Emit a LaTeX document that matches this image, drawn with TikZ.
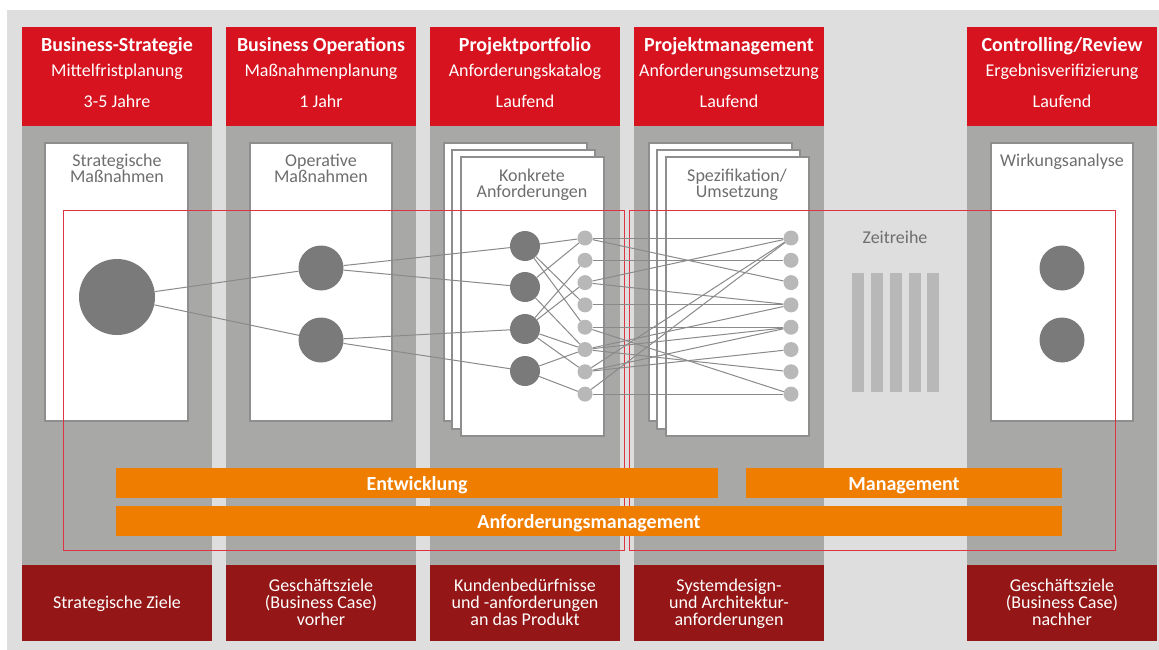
\documentclass[tikz,border=0pt]{standalone}
\usepackage{fontspec}
\setmainfont{Carlito}
\definecolor{bggray}{HTML}{DEDEDE}
\definecolor{colgray}{HTML}{A8A8A6}
\definecolor{hdrred}{HTML}{D6131F}
\definecolor{ftrred}{HTML}{941616}
\definecolor{barorange}{HTML}{EF7D00}
\definecolor{darknode}{HTML}{7A7A7A}
\definecolor{lightnode}{HTML}{B8B8B8}
\definecolor{edgegray}{HTML}{8A8A8A}
\definecolor{pagegray}{HTML}{8E8E8E}
\definecolor{labelgray}{HTML}{6E6E6E}
\definecolor{frame}{HTML}{DC3442}
\begin{document}
\begin{tikzpicture}[x=1pt,y=-1pt,
    page/.style={fill=white, draw=pagegray, line width=1.2pt},
    frameline/.style={draw=frame, line width=1pt},
    edge/.style={draw=edgegray, line width=1pt},
    bignode/.style={circle, fill=darknode, inner sep=0pt, minimum size=76pt},
    midnode/.style={circle, fill=darknode, inner sep=0pt, minimum size=45pt},
    knode/.style={circle, fill=darknode, inner sep=0pt, minimum size=30pt},
    snode/.style={circle, fill=lightnode, inner sep=0pt, minimum size=15pt},
    hdrbold/.style={anchor=base, text=white, inner sep=0pt, font=\bfseries\fontsize{20}{20}\selectfont},
    hdrtext/.style={anchor=base, text=white, inner sep=0pt, font=\fontsize{18}{18}\selectfont},
    boxlabel/.style={anchor=north, text=labelgray, inner sep=0pt, align=center, font=\fontsize{18}{16}\selectfont},
    ftrtext/.style={anchor=north, text=white, inner sep=0pt, align=center, font=\fontsize{18}{17}\selectfont},
    bartext/.style={anchor=base, text=white, inner sep=0pt, font=\bfseries\fontsize{20}{20}\selectfont}]
    \useasboundingbox (0,0) rectangle (1159,650);
    \fill[bggray] (7,10) rectangle (1159,650);
    % columns
    \fill[colgray] (22,126) rectangle (212,565);
    \fill[colgray] (226,126) rectangle (416,565);
    \fill[colgray] (430,126) rectangle (620,565);
    \fill[colgray] (634,126) rectangle (824,565);
    \fill[colgray] (967,126) rectangle (1157,565);
    \fill[hdrred] (22,27) rectangle (212,126);
    \fill[hdrred] (226,27) rectangle (416,126);
    \fill[hdrred] (430,27) rectangle (620,126);
    \fill[hdrred] (634,27) rectangle (824,126);
    \fill[hdrred] (967,27) rectangle (1157,126);
    \fill[ftrred] (22,565) rectangle (212,641);
    \fill[ftrred] (226,565) rectangle (416,641);
    \fill[ftrred] (430,565) rectangle (620,641);
    \fill[ftrred] (634,565) rectangle (824,641);
    \fill[ftrred] (967,565) rectangle (1157,641);
    % pages
    \draw[page] (45,143) rectangle (188,421);
    \draw[page] (250,143) rectangle (392,421);
    \draw[page] (444,143) rectangle (587,421);
    \draw[page] (452,150) rectangle (595,429);
    \draw[page] (461,157) rectangle (604,436);
    \draw[page] (649,143) rectangle (792,421);
    \draw[page] (657,150) rectangle (800,429);
    \draw[page] (666,157) rectangle (809,436);
    \draw[page] (991,143) rectangle (1133,421);
    % header texts
    \node[hdrbold] (strat) at (117,52) {Business-Strategie};
    \node[hdrtext] (stratsub) at (117,77) {Mittelfristplanung};
    \node[hdrtext] (stratzeit) at (117,108) {3-5 Jahre};
    \node[hdrbold] (ops) at (321,52) {Business Operations};
    \node[hdrtext] (opssub) at (321,77) {Maßnahmenplanung};
    \node[hdrtext] (opszeit) at (321,108) {1 Jahr};
    \node[hdrbold] (portf) at (525,52) {Projektportfolio};
    \node[hdrtext] (portfsub) at (525,77) {Anforderungskatalog};
    \node[hdrtext] (portfzeit) at (525,108) {Laufend};
    \node[hdrbold] (pm) at (729,52) {Projektmanagement};
    \node[hdrtext] (pmsub) at (729,77) {Anforderungsumsetzung};
    \node[hdrtext] (pmzeit) at (729,108) {Laufend};
    \node[hdrbold] (ctrl) at (1062,52) {Controlling/Review};
    \node[hdrtext] (ctrlsub) at (1062,77) {Ergebnisverifizierung};
    \node[hdrtext] (ctrlzeit) at (1062,108) {Laufend};
    % page labels
    \node[boxlabel] (lstrat) at (117,154) {Strategische\\Maßnahmen};
    \node[boxlabel] (lops) at (321,154) {Operative\\Maßnahmen};
    \node[boxlabel] (lkonk) at (532,169) {Konkrete\\Anforderungen};
    \node[boxlabel] (lspez) at (737,169) {Spezifikation/\\Umsetzung};
    \node[boxlabel] (lwirk) at (1062,154) {Wirkungsanalyse};
    \node[boxlabel] (lzeit) at (895,231) {Zeitreihe};
    % Zeitreihe
    \fill[lightnode] (852,273) rectangle (864,392);
    \fill[lightnode] (871,273) rectangle (883,392);
    \fill[lightnode] (890,273) rectangle (902,392);
    \fill[lightnode] (909,273) rectangle (921,392);
    \fill[lightnode] (927,273) rectangle (939,392);
    % frames
    \draw[frameline] (63,210) rectangle (624,550);
    \draw[frameline] (629,210) rectangle (1115,550);
    % nodes
    \node[bignode] (ziel) at (117,297) {};
    \node[midnode] (op1) at (321,268) {};
    \node[midnode] (op2) at (321,340) {};
    \node[knode] (ka) at (525,246) {};
    \node[knode] (kb) at (525,287) {};
    \node[knode] (kc) at (525,329) {};
    \node[knode] (kd) at (525,371) {};
    \node[snode] (s1) at (585,238) {};
    \node[snode] (s2) at (585,260.3) {};
    \node[snode] (s3) at (585,282.6) {};
    \node[snode] (s4) at (585,304.9) {};
    \node[snode] (s5) at (585,327.2) {};
    \node[snode] (s6) at (585,349.5) {};
    \node[snode] (s7) at (585,371.8) {};
    \node[snode] (s8) at (585,394.1) {};
    \node[snode] (t1) at (791,238) {};
    \node[snode] (t2) at (791,260.3) {};
    \node[snode] (t3) at (791,282.6) {};
    \node[snode] (t4) at (791,304.9) {};
    \node[snode] (t5) at (791,327.2) {};
    \node[snode] (t6) at (791,349.5) {};
    \node[snode] (t7) at (791,371.8) {};
    \node[snode] (t8) at (791,394.1) {};
    \node[midnode] (w1) at (1062,268) {};
    \node[midnode] (w2) at (1062,340) {};
    % edges
    \draw[edge] (ziel) -- (op1);
    \draw[edge] (ziel) -- (op2);
    \draw[edge] (op1) -- (ka);
    \draw[edge] (op1) -- (kb);
    \draw[edge] (op2) -- (kc);
    \draw[edge] (op2) -- (kd);
    \draw[edge] (ka) -- (s1);
    \draw[edge] (ka) -- (s4);
    \draw[edge] (ka) -- (s5);
    \draw[edge] (kb) -- (s1);
    \draw[edge] (kb) -- (s6);
    \draw[edge] (kc) -- (s2);
    \draw[edge] (kc) -- (s3);
    \draw[edge] (kc) -- (s6);
    \draw[edge] (kc) -- (s7);
    \draw[edge] (kd) -- (s6);
    \draw[edge] (kd) -- (s8);
    \draw[edge] (s1) -- (t1);
    \draw[edge] (s1) -- (t3);
    \draw[edge] (s2) -- (t2);
    \draw[edge] (s3) -- (t1);
    \draw[edge] (s3) -- (t4);
    \draw[edge] (s4) -- (t4);
    \draw[edge] (s5) -- (t5);
    \draw[edge] (s5) -- (t8);
    \draw[edge] (s6) -- (t4);
    \draw[edge] (s6) -- (t5);
    \draw[edge] (s6) -- (t7);
    \draw[edge] (s7) -- (t1);
    \draw[edge] (s7) -- (t5);
    \draw[edge] (s7) -- (t6);
    \draw[edge] (s8) -- (t1);
    \draw[edge] (s8) -- (t8);
    % bars
    \fill[barorange] (116,468) rectangle (718,498);
    \fill[barorange] (746,468) rectangle (1062,498);
    \fill[barorange] (116,506) rectangle (1062,536);
    \node[bartext] (entw) at (417,490) {Entwicklung};
    \node[bartext] (mgmt) at (904,490) {Management};
    \node[bartext] (anfm) at (589,528) {Anforderungsmanagement};
    % footer texts
    \node[anchor=base, text=white, inner sep=0pt, font=\fontsize{18}{17}\selectfont] (fstrat) at (117,608) {Strategische Ziele};
    \node[ftrtext] (fops) at (321,579) {Geschäftsziele\\(Business Case)\\vorher};
    \node[ftrtext] (fportf) at (525,579) {Kundenbedürfnisse\\und -anforderungen\\an das Produkt};
    \node[ftrtext] (fpm) at (729,579) {Systemdesign-\\und Architektur-\\anforderungen};
    \node[ftrtext] (fctrl) at (1062,579) {Geschäftsziele\\(Business Case)\\nachher};
\end{tikzpicture}
\end{document}
